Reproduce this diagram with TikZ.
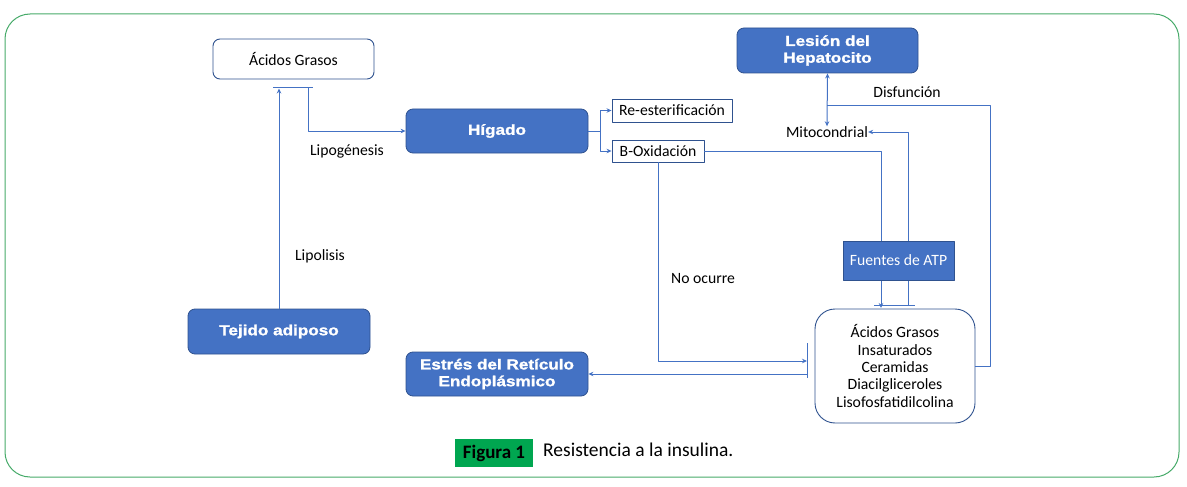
\documentclass[tikz,border=0pt]{standalone}
\usepackage{fontspec}
\setmainfont{Carlito}
\newfontfamily\heavy[FakeStretch=1.18,FakeBold=1.4]{Liberation Sans}
\usetikzlibrary{arrows.meta}
\definecolor{azul}{RGB}{68,114,196}
\definecolor{azuloscuro}{RGB}{47,82,143}
\definecolor{verde}{RGB}{0,166,80}
\definecolor{marco}{RGB}{70,170,105}

\begin{document}
\begin{tikzpicture}[x=1pt,y=-1pt,line join=round,>={Stealth[length=5pt,width=4.5pt]},
	linea/.style={draw=azul,line width=1pt},
	blanca/.style={draw=azuloscuro,fill=white,rounded corners=7pt,line width=0.9pt,font=\fontsize{15.7}{17.3}\selectfont,align=center,inner sep=0pt},
	caja/.style={draw=azuloscuro,fill=white,line width=0.9pt,font=\fontsize{15.7}{17.3}\selectfont,inner sep=0pt},
	azulada/.style={draw=azuloscuro,fill=azul,rounded corners=7pt,line width=0.8pt,text=white,font=\heavy\bfseries\fontsize{14.5}{16.8}\selectfont,align=center,inner sep=0pt},
	etiqueta/.style={font=\fontsize{15.7}{17.3}\selectfont,inner sep=0pt}]
	\useasboundingbox (0,0) rectangle (1187,487);
	% marco
	\draw[marco,line width=1pt,rounded corners=25pt] (5,14) rectangle (1179,477);
	% cajas
	\node[blanca,minimum width=161pt,minimum height=40pt] (ag) at (293.5,59) {Ácidos Grasos};
	\node[azulada,minimum width=182pt,minimum height=44pt] (hig) at (497,131) {Hígado};
	\node[caja,minimum width=120pt,minimum height=23pt] (re) at (672,110.5) {Re-esterificación};
	\node[caja,minimum width=92pt,minimum height=22pt] (box) at (658,151) {B-Oxidación};
	\node[azulada,minimum width=181pt,minimum height=45pt] (les) at (827.5,50.5) {Lesión del\\Hepatocito};
	\node[etiqueta] (mit) at (827,132) {Mitocondrial};
	\node[blanca,rounded corners=20pt,minimum width=160pt,minimum height=114pt] (agb) at (895,366)
		{Ácidos Grasos\\Insaturados\\Ceramidas\\Diacilgliceroles\\Lisofosfatidilcolina};
	\node[azulada,minimum width=182pt,minimum height=45pt] (tej) at (279,331.5) {Tejido adiposo};
	\node[azulada,minimum width=182pt,minimum height=44pt] (est) at (497,374) {Estrés del Retículo\\Endoplásmico};
	% barras
	\coordinate (b1) at (308,88);
	\coordinate (b2a) at (881,305);
	\coordinate (b2b) at (908,305);
	\coordinate (b3) at (807,361);
	\coordinate (b3b) at (807,374);
	\coordinate (rama) at (600,131);
	\coordinate (dis) at (827,106);
	\draw[linea] (273,88)--(313,88);
	\draw[linea] (874,305)--(915,305);
	\draw[linea] (807,343)--(807,378);
	% conectores
	\draw[linea,->] (tej.north)--(279,88.5);
	\draw[linea,->] (b1)|-(hig.west);
	\draw[linea] (hig.east)--(rama);
	\draw[linea,->] (rama)|-(re.west);
	\draw[linea,->] (rama)|-(box.west);
	\draw[linea,->] (box.east)-|([yshift=-3pt]b2a);
	\draw[linea,->] (b2b)|-(mit.east);
	\draw[linea,<->] (les.south)--(mit.north);
	\draw[linea] (dis)--(990,106)|-(agb.east);
	\draw[linea,->] (box.south)|-(b3);
	\draw[linea,->] (b3b)--(est.east);
	% fuentes de ATP encima de las lineas
	\node[draw=azuloscuro,fill=azul,line width=0.8pt,text=white,font=\fontsize{15.7}{17.3}\selectfont,minimum width=111pt,minimum height=39pt,inner sep=0pt] (atp) at (898.5,260.5) {Fuentes de ATP};
	% textos
	\node[etiqueta] (dsf) at (907,92) {Disfunción};
	\node[etiqueta] (lpg) at (347,151) {Lipogénesis};
	\node[etiqueta] (lps) at (320,256) {Lipolisis};
	\node[etiqueta] (noc) at (703,279) {No ocurre};
	% pie
	\node[fill=verde,minimum width=78pt,minimum height=28pt,inner sep=0pt,font=\bfseries\fontsize{19}{21}\selectfont] (fig) at (494,453) {Figura 1};
	\node[anchor=west,inner sep=0pt,font=\fontsize{19.5}{21}\selectfont] (cap) at (543,450) {Resistencia a la insulina.};
\end{tikzpicture}
\end{document}
